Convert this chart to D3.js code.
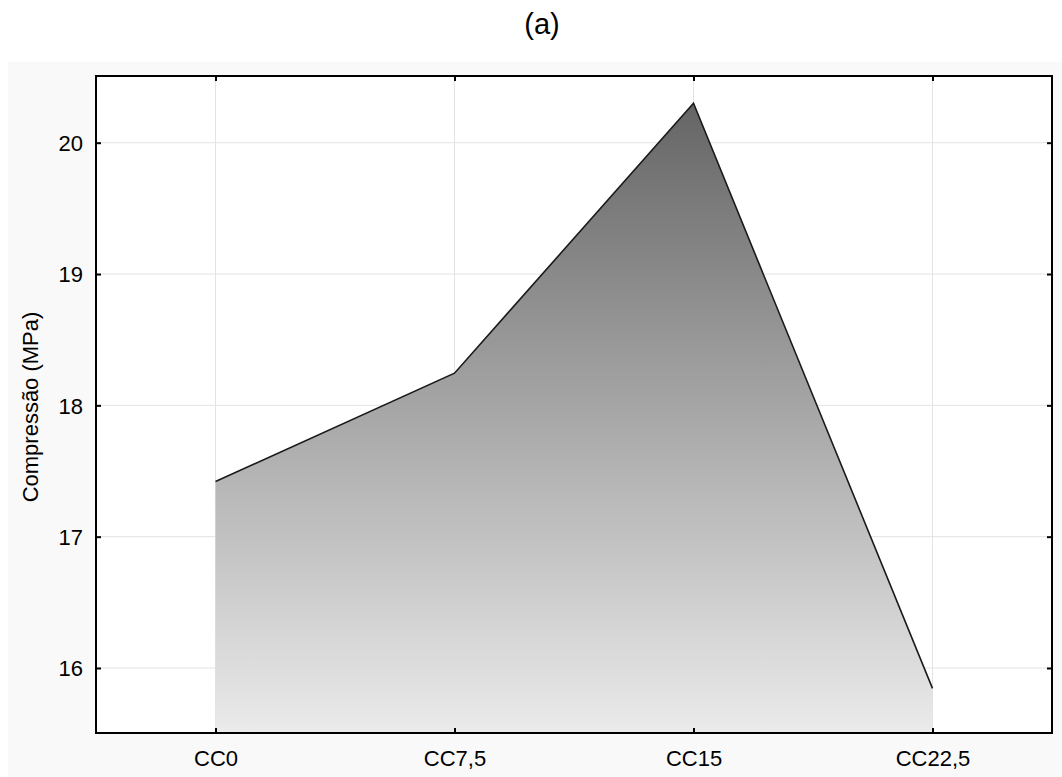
<!DOCTYPE html>
<html>
<head>
<meta charset="utf-8">
<script src="https://cdn.jsdelivr.net/npm/d3@7"></script>
<style>
html,body{margin:0;padding:0;background:#fff;}
svg{display:block;font-family:Arial,"Liberation Sans",sans-serif;}
</style>
</head>
<body>
<svg id="chart" width="1062" height="777"></svg>
<script>
const categories = ["CC0", "CC7,5", "CC15", "CC22,5"];
const values = [17.42, 18.245, 20.30, 15.845];
const yTicks = [16, 17, 18, 19, 20];
const title = "(a)";
const yLabel = "Compressão (MPa)";

const W = 1062, H = 777;
const m = {left: 96, right: 1052, top: 76, bottom: 733};
const svg = d3.select("#chart");

svg.append("rect").attr("x", 8).attr("y", 62).attr("width", W - 8).attr("height", H - 62).attr("fill", "#f9f9f9");
svg.append("rect").attr("x", m.left).attr("y", m.top).attr("width", m.right - m.left).attr("height", m.bottom - m.top).attr("fill", "#fff");

const x = d3.scalePoint().domain(categories).range([m.left, m.right]).padding(0.5);
const y = d3.scaleLinear().domain([15.505, 20.508]).range([m.bottom, m.top]);

// grid
const grid = svg.append("g");
grid.selectAll("line.h").data(yTicks).join("line")
  .attr("x1", m.left).attr("x2", m.right)
  .attr("y1", d => y(d)).attr("y2", d => y(d))
  .attr("stroke", "#e3e3e3").attr("stroke-width", 1);
grid.selectAll("line.v").data(categories).join("line")
  .attr("y1", m.top).attr("y2", m.bottom)
  .attr("x1", d => x(d)).attr("x2", d => x(d))
  .attr("stroke", "#e3e3e3").attr("stroke-width", 1);

// gradient
const defs = svg.append("defs");
const grad = defs.append("linearGradient").attr("id", "g").attr("x1", 0).attr("y1", 0).attr("x2", 0).attr("y2", 1);
grad.append("stop").attr("offset", "0%").attr("stop-color", "#656565");
grad.append("stop").attr("offset", "100%").attr("stop-color", "#ebebeb");

const data = categories.map((c, i) => ({c, v: values[i]}));
const area = d3.area().x(d => x(d.c)).y0(m.bottom).y1(d => y(d.v));
svg.append("path").datum(data).attr("d", area).attr("fill", "url(#g)");
const line = d3.line().x(d => x(d.c)).y(d => y(d.v));
svg.append("path").datum(data).attr("d", line).attr("fill", "none").attr("stroke", "#1a1a1a").attr("stroke-width", 1.6);

// axes
const fs = "22px";
const axB = svg.append("g").attr("transform", `translate(0,${m.bottom})`)
  .call(d3.axisBottom(x).tickSizeInner(-5).tickSizeOuter(0));
const axT = svg.append("g").attr("transform", `translate(0,${m.top})`)
  .call(d3.axisTop(x).tickSizeInner(-5).tickSizeOuter(0).tickFormat(""));
const axL = svg.append("g").attr("transform", `translate(${m.left},0)`)
  .call(d3.axisLeft(y).tickValues(yTicks).tickSizeInner(-5).tickSizeOuter(0).tickFormat(d3.format("d")));
const axR = svg.append("g").attr("transform", `translate(${m.right},0)`)
  .call(d3.axisRight(y).tickValues(yTicks).tickSizeInner(-5).tickSizeOuter(0).tickFormat(""));
[axB, axT, axL, axR].forEach(a => {
  a.select(".domain").remove();
  a.selectAll(".tick line").attr("stroke", "#000").attr("stroke-width", 2);
  a.selectAll("text").attr("font-size", fs).attr("fill", "#000").attr("font-family", "Arial, 'Liberation Sans', sans-serif");
});
axB.selectAll("text").attr("y", 33).attr("dy", 0);
axL.selectAll("text").attr("x", -13).attr("dy", "0.35em");

svg.append("rect").attr("x", m.left).attr("y", m.top).attr("width", m.right - m.left).attr("height", m.bottom - m.top)
  .attr("fill", "none").attr("stroke", "#000").attr("stroke-width", 2);

svg.append("text").attr("x", 542).attr("y", 34).attr("text-anchor", "middle")
  .attr("font-size", "29px").attr("fill", "#000").text(title);
svg.append("text").attr("transform", `translate(38,407) rotate(-90)`)
  .attr("text-anchor", "middle").attr("font-size", "22px").attr("fill", "#000").text(yLabel);
</script>
</body>
</html>
